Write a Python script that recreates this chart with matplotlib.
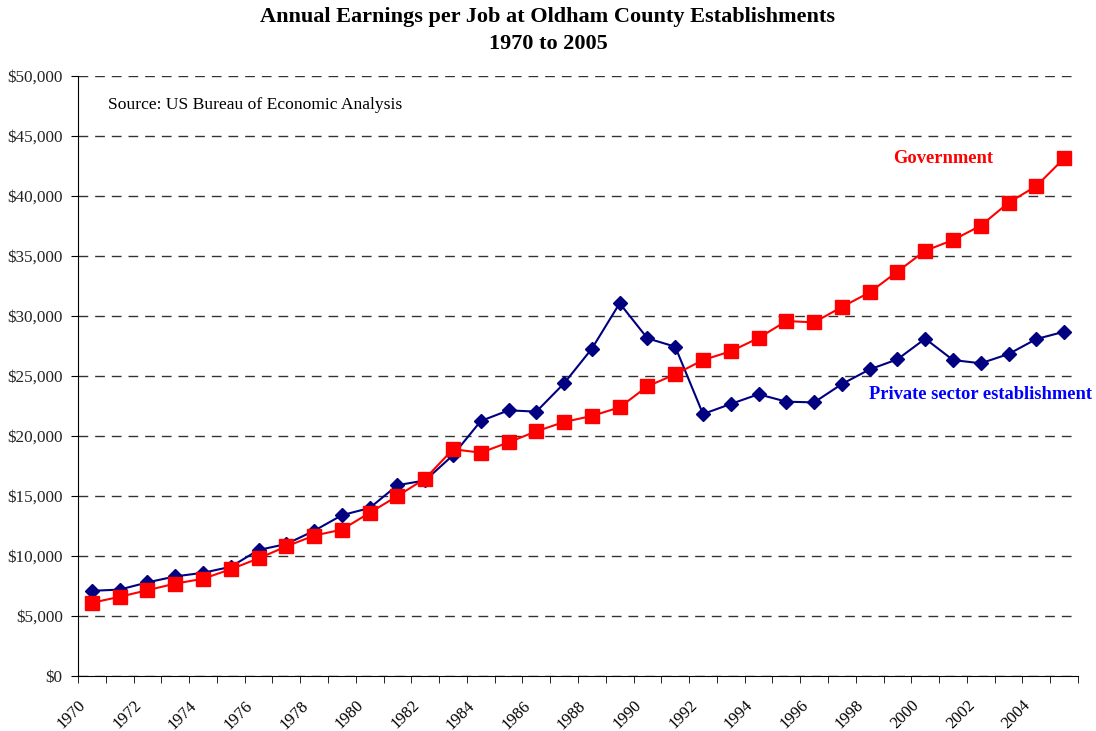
import numpy as np
import matplotlib.pyplot as plt
import matplotlib.transforms as mtransforms
from matplotlib.ticker import FuncFormatter

years = list(range(1970, 2006))

private = [7100, 7200, 7800, 8300, 8600, 9100, 10500, 11000, 12100, 13400,
           14000, 15900, 16300, 18400, 21250, 22140, 22030, 24390, 27280, 31060,
           28140, 27440, 21830, 22670, 23480, 22860, 22800, 24330, 25550, 26390,
           28110, 26330, 26060, 26830, 28080, 28690]

government = [6100, 6600, 7150, 7700, 8100, 8900, 9800, 10800, 11700, 12200,
              13600, 15000, 16450, 18900, 18610, 19470, 20390, 21170, 21670, 22390,
              24140, 25140, 26330, 27060, 28160, 29580, 29470, 30750, 31970, 33700,
              35440, 36330, 37530, 39440, 40830, 43140]

plt.rcParams['font.family'] = ['Liberation Serif', 'DejaVu Serif']

fig = plt.figure(figsize=(10.96, 7.31), dpi=100)
ax = fig.add_axes([78/1096, 55/731, 1000/1096, 600/731])

x = np.arange(len(years))
ax.plot(x, private, color='#000080', marker='D', markersize=7.2, lw=1.5)
ax.plot(x, government, color='#ff0000', marker='s', markersize=10.5, lw=1.5)

ax.set_xlim(-0.5, len(years) - 0.5)
ax.set_ylim(0, 50000)
ax.set_yticks(np.arange(0, 50001, 5000))
ax.yaxis.set_major_formatter(FuncFormatter(lambda v, p: '${:,.0f}'.format(v)))
ax.grid(axis='y', color='#333333', linestyle=(0, (7, 5)), lw=1)
ax.set_axisbelow(True)

# ticks at category edges, labels at even-year centres
ax.set_xticks(np.arange(-0.5, len(years), 1), minor=True)
even = [i for i, y in enumerate(years) if y % 2 == 0]
ax.set_xticks(even)
ax.set_xticklabels([str(years[i]) for i in even], rotation=45, ha='right',
                   rotation_mode='anchor')
ax.tick_params(axis='x', which='major', length=0, pad=14, labelsize=12)
ax.tick_params(axis='x', which='minor', length=5, direction='out')
ax.tick_params(axis='y', length=5, direction='out', labelsize=12.3,
               labelcolor='#222222', pad=6)

offset = mtransforms.ScaledTranslation(-0.14, -0.02, fig.dpi_scale_trans)
for lbl in ax.get_xticklabels():
    lbl.set_transform(lbl.get_transform() + offset)

for s in ['top', 'right']:
    ax.spines[s].set_visible(False)

fig.text(0.5, 1 - 17/731, 'Annual Earnings per Job at Oldham County Establishments',
         fontsize=16, fontweight='bold', ha='center', va='center')
fig.text(0.5, 1 - 44/731, '1970 to 2005',
         fontsize=16, fontweight='bold', ha='center', va='center')

ax.text(0.58, 47580, 'Source: US Bureau of Economic Analysis', fontsize=12.6,
        va='center')
ax.text(30.65, 43150, 'Government', color='#ff0000', fontsize=13.3,
        fontweight='bold', ha='center', va='center')
ax.text(36.0, 23450, 'Private sector establishment', color='#0000ff',
        fontsize=13.3, fontweight='bold', ha='right', va='center', clip_on=False)

fig.savefig('out.png', dpi=100)
